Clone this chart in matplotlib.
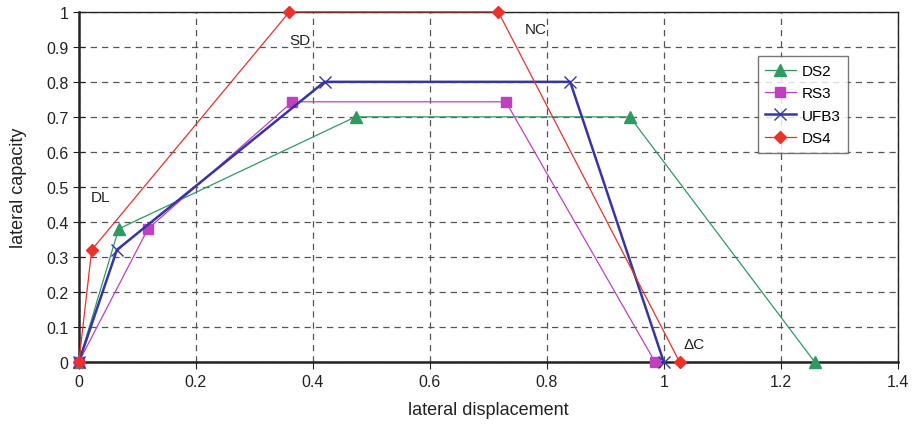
import matplotlib
matplotlib.use("Agg")
import matplotlib.pyplot as plt

plt.rcParams["font.family"] = ["Liberation Sans", "DejaVu Sans"]

# series
ds2_x = [0, 0.068, 0.473, 0.942, 1.258]
ds2_y = [0, 0.38, 0.70, 0.70, 0]
rs3_x = [0, 0.118, 0.365, 0.730, 0.985]
rs3_y = [0, 0.38, 0.743, 0.743, 0]
ufb3_x = [0, 0.065, 0.42, 0.84, 1.0]
ufb3_y = [0, 0.32, 0.80, 0.80, 0]
ds4_x = [0, 0.022, 0.36, 0.717, 1.027]
ds4_y = [0, 0.32, 1.0, 1.0, 0]

labels = ["DL", "SD", "NC", "\u0394C"]
label_x = [0.020, 0.360, 0.762, 1.033]
label_y = [0.47, 0.92, 0.95, 0.05]

fig = plt.figure(figsize=(9.17, 4.27), dpi=100)
ax = fig.add_axes([0.086, 0.150, 0.893, 0.820])

ax.plot(ds2_x, ds2_y, color="#2e9a62", lw=0.9, marker="^", ms=8, label="DS2", zorder=3, clip_on=False)
ax.plot(rs3_x, rs3_y, color="#c040c0", lw=0.9, marker="s", ms=7, label="RS3", zorder=3, clip_on=False)
ax.plot(ufb3_x, ufb3_y, color="#3535a5", lw=1.8, marker="x", ms=8, mew=1.0, label="UFB3", zorder=4, clip_on=False)
ax.plot(ds4_x, ds4_y, color="#e8322a", lw=0.9, marker="D", ms=6, label="DS4", zorder=5, clip_on=False)

for t, x, y in zip(labels, label_x, label_y):
    ax.text(x, y, t, fontsize=11, color="#222222", ha="left", va="center")

ax.set_xlim(0, 1.4)
ax.set_ylim(0, 1)
ax.set_xticks([0, 0.2, 0.4, 0.6, 0.8, 1, 1.2, 1.4])
ax.set_xticklabels(["0", "0.2", "0.4", "0.6", "0.8", "1", "1.2", "1.4"])
ax.set_yticks([i / 10 for i in range(11)])
ax.set_yticklabels(["0"] + ["0.%d" % i for i in range(1, 10)] + ["1"])
ax.tick_params(labelsize=11.5, colors="#222222")
ax.tick_params(axis="y", direction="inout", length=8)
ax.tick_params(axis="x", direction="out", length=5)

ax.grid(True, color="#555555", ls=(0, (5, 4)), lw=0.9)
for s in ["left", "bottom"]:
    ax.spines[s].set_linewidth(1.8)
    ax.spines[s].set_color("#222222")
for s in ["top", "right"]:
    ax.spines[s].set_linewidth(1.0)
    ax.spines[s].set_color("#222222")

ax.set_xlabel("lateral displacement", fontsize=13, color="#222222", labelpad=9)
ax.set_ylabel("lateral capacity", fontsize=13, color="#222222", labelpad=14)

leg = ax.legend(loc="upper right", bbox_to_anchor=(0.949, 0.895), fontsize=11,
                frameon=True, fancybox=False, edgecolor="#555555",
                handlelength=2.0, handletextpad=0.4, borderpad=0.5, labelspacing=0.55)
leg.get_frame().set_linewidth(1.0)

fig.savefig("out.png", dpi=100)
